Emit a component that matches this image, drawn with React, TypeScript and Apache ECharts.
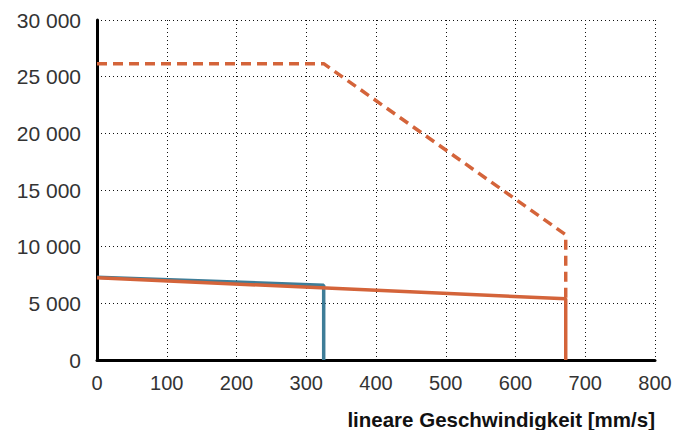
import React, { useEffect, useRef } from "react";
import * as echarts from "echarts";

const blueLine: [number, number][] = [
  [0, 7300],
  [325, 6600],
  [325, 0],
];
const orangeSolid: [number, number][] = [
  [0, 7250],
  [672, 5400],
  [672, 0],
];
const orangeDashed: [number, number][] = [
  [0, 26150],
  [325, 26150],
  [672, 11050],
  [672, 5400],
];
const xTicks = { min: 0, max: 800, interval: 100 };
const yTicks = { min: 0, max: 30000, interval: 5000 };
const xName = "lineare Geschwindigkeit [mm/s]";

const BLUE = "#3e7d98";
const ORANGE = "#d4643a";
const FONT = "'Liberation Sans', Arial, Helvetica, sans-serif";

export default function App() {
  const ref = useRef<HTMLDivElement>(null);
  useEffect(() => {
    if (!ref.current) return;
    const chart = echarts.init(ref.current, undefined, { renderer: "svg" });
    const gridLine = { show: true, lineStyle: { color: "#111", width: 1, type: [1, 3] as any } };
    chart.setOption({
      animation: false,
      backgroundColor: "#fff",
      grid: { left: 97, right: 30, top: 20, bottom: 70, containLabel: false },
      xAxis: {
        type: "value",
        min: xTicks.min,
        max: xTicks.max,
        interval: xTicks.interval,
        axisLine: { show: true, onZero: false, lineStyle: { color: "#000", width: 3 } },
        axisTick: { show: false },
        splitLine: gridLine,
        axisLabel: { color: "#333", fontSize: 20, fontFamily: FONT, margin: 13 },
        name: xName,
        nameLocation: "end",
        nameGap: 0,
        nameTextStyle: {
          color: "#111",
          fontSize: 20.5,
          fontWeight: "bold",
          fontFamily: FONT,
          align: "right",
          verticalAlign: "top",
          padding: [49, 0, 0, 0],
        },
      },
      yAxis: {
        type: "value",
        min: yTicks.min,
        max: yTicks.max,
        interval: yTicks.interval,
        axisLine: { show: true, onZero: false, lineStyle: { color: "#000", width: 3 } },
        axisTick: { show: false },
        splitLine: gridLine,
        axisLabel: {
          color: "#333",
          fontSize: 21,
          fontFamily: FONT,
          margin: 16,
          formatter: (v: number) => String(v).replace(/\B(?=(\d{3})+(?!\d))/g, " "),
        },
      },
      series: [
        {
          type: "line",
          data: blueLine,
          symbol: "none",
          lineStyle: { color: BLUE, width: 3.5 },
          z: 3,
        },
        {
          type: "line",
          data: orangeDashed,
          symbol: "none",
          lineStyle: { color: ORANGE, width: 3.5, type: [10, 6] as any },
          z: 4,
        },
        {
          type: "line",
          data: orangeSolid,
          symbol: "none",
          lineStyle: { color: ORANGE, width: 3.5 },
          z: 5,
        },
      ],
    });
    return () => chart.dispose();
  }, []);
  return (
    <div
      ref={ref}
      style={{ position: "fixed", left: 0, top: 0, width: 685, height: 430 }}
    />
  );
}
